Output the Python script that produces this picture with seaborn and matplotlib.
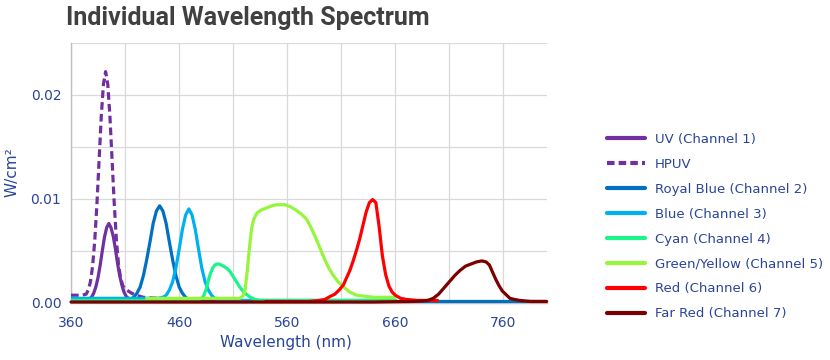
import matplotlib
matplotlib.use("Agg")
import matplotlib.pyplot as plt
import seaborn as sns
import pandas as pd
from matplotlib.ticker import FixedLocator

# ---------------- data ----------------
uv_x = [360, 365, 370, 375, 379, 381, 383, 385, 387, 389, 391, 393, 395, 397, 399,
        401, 403, 405, 407, 409, 411, 414, 418, 425, 435, 450]
uv_y = [0.0002, 0.0002, 0.0002, 0.00025, 0.0005, 0.0009, 0.0015, 0.0024, 0.0036, 0.0050,
        0.0063, 0.0072, 0.0076, 0.0072, 0.0064, 0.0052, 0.0038, 0.0026, 0.0017, 0.0010,
        0.0006, 0.0003, 0.0002, 0.0002, 0.0002, 0.0002]

hpuv_x = [360, 365, 370, 374, 376, 378, 380, 382, 384, 386, 388, 390, 392, 394, 396,
          398, 400, 402, 404, 406, 408, 410, 413, 416, 420, 427, 440, 450, 470, 520, 600, 660]
hpuv_y = [0.0007, 0.0007, 0.0007, 0.0008, 0.0012, 0.0020, 0.0035, 0.0060, 0.0095, 0.0137,
          0.0179, 0.0210, 0.0222, 0.0210, 0.0179, 0.0137, 0.0095, 0.0060, 0.0036, 0.0023,
          0.0016, 0.0013, 0.0011, 0.0009, 0.0007, 0.0005, 0.0004, 0.0003, 0.0002, 0.00015,
          0.00015, 0.00015]

royal_x = [360, 380, 400, 410, 415, 418, 421, 424, 427, 430, 433, 436, 439, 442, 445,
           448, 451, 454, 457, 460, 463, 466, 469, 475, 490, 520, 600, 700, 800]
royal_y = [0.0001, 0.0001, 0.0001, 0.00015, 0.0003, 0.0005, 0.0009, 0.0015, 0.0026, 0.0041,
           0.0058, 0.0076, 0.0088, 0.0093, 0.0088, 0.0076, 0.0058, 0.0041, 0.0026, 0.0015,
           0.0009, 0.0005, 0.0003, 0.00015, 0.0001, 0.0001, 0.0001, 0.0001, 0.0001]

blue_x = [360, 380, 400, 420, 440, 445, 448, 451, 454, 457, 460, 463, 466, 469, 472,
          475, 478, 481, 484, 487, 490, 493, 497, 505, 550, 600, 660]
blue_y = [0.0004, 0.0004, 0.0004, 0.0004, 0.0004, 0.0005, 0.0007, 0.0012, 0.0020, 0.0033,
          0.0051, 0.0070, 0.0084, 0.0090, 0.0084, 0.0070, 0.0051, 0.0033, 0.0020, 0.0012,
          0.0007, 0.0004, 0.0003, 0.0002, 0.0002, 0.0002, 0.0002]

cyan_x = [360, 420, 470, 478, 481, 483, 485, 487, 489, 491, 493, 495, 497, 499, 501,
          504, 507, 510, 513, 516, 519, 522, 526, 530, 535, 560, 600, 660]
cyan_y = [0.0002, 0.0002, 0.0002, 0.0003, 0.0004, 0.0007, 0.0013, 0.0021, 0.0028, 0.0033,
          0.0036, 0.0037, 0.0037, 0.0036, 0.0035, 0.0033, 0.0030, 0.0025, 0.0020, 0.0015,
          0.0011, 0.0008, 0.0005, 0.0003, 0.0002, 0.0002, 0.0002, 0.0002]

green_x = [430, 460, 490, 510, 516, 519, 521, 523, 525, 527, 529, 532, 536, 541, 546,
           550, 554, 558, 563, 568, 573, 578, 582, 586, 590, 594, 598, 602, 607, 612,
           618, 624, 632, 640, 650, 660]
green_y = [0.0004, 0.0004, 0.0004, 0.0004, 0.0004, 0.0006, 0.0012, 0.0030, 0.0052, 0.0071,
           0.0080, 0.0086, 0.0089, 0.0091, 0.0093, 0.0094, 0.0094, 0.0094, 0.0092, 0.0089,
           0.0085, 0.0080, 0.0072, 0.0063, 0.0053, 0.0043, 0.0034, 0.0027, 0.0020, 0.0015,
           0.0010, 0.0007, 0.0006, 0.0005, 0.0005, 0.0005]

red_x = [540, 560, 580, 590, 595, 600, 604, 608, 612, 615, 618, 621, 624, 627, 630,
         633, 636, 639, 642, 645, 648, 651, 654, 657, 660, 665, 670, 680, 690, 699]
red_y = [0.0001, 0.0001, 0.0001, 0.0002, 0.0003, 0.0006, 0.0008, 0.0012, 0.0017, 0.0024,
         0.0031, 0.0040, 0.0050, 0.0061, 0.0074, 0.0087, 0.0096, 0.0099, 0.0096, 0.0073,
         0.0045, 0.0027, 0.0016, 0.0010, 0.0007, 0.0004, 0.0003, 0.0002, 0.0002, 0.0002]

farred_x = [360, 400, 450, 500, 550, 600, 640, 660, 675, 685, 690, 695, 700, 705, 710,
            715, 720, 725, 730, 735, 740, 744, 747, 750, 753, 756, 759, 762, 766, 770,
            775, 785, 800]
farred_y = [0.00005, 0.00005, 0.00005, 0.00005, 0.00005, 0.00005, 0.00005, 0.00008, 0.0001,
            0.00015, 0.0002, 0.0004, 0.0008, 0.0014, 0.0020, 0.0026, 0.0031, 0.0035, 0.0037,
            0.0039, 0.0040, 0.0039, 0.0036, 0.0029, 0.0022, 0.0016, 0.0011, 0.0008, 0.0004,
            0.0003, 0.0002, 0.0001, 0.0001]

series_labels = ["UV (Channel 1)", "HPUV", "Royal Blue (Channel 2)", "Blue (Channel 3)",
                 "Cyan (Channel 4)", "Green/Yellow (Channel 5)", "Red (Channel 6)",
                 "Far Red (Channel 7)"]
series_colors = ["#7030A0", "#7030A0", "#0070C0", "#00B0F0", "#1AF58A", "#96F53C",
                 "#FF0000", "#7B0000"]
series_xy = [(uv_x, uv_y), (hpuv_x, hpuv_y), (royal_x, royal_y), (blue_x, blue_y),
             (cyan_x, cyan_y), (green_x, green_y), (red_x, red_y), (farred_x, farred_y)]

x_tick_values = [360, 460, 560, 660, 760]
y_tick_values = [0.0, 0.01, 0.02]
y_tick_labels = ["0.00", "0.01", "0.02"]

# ---------------- styling ----------------
sns.set_theme(style="whitegrid")
plt.rcParams["font.family"] = ["DejaVu Sans"]
TXT = "#2A4598"
GRID = "#D9D9D9"

fig = plt.figure(figsize=(8.3, 3.6), dpi=100)
ax = fig.add_axes([71 / 830, 57.5 / 360, 475.7 / 830, 260 / 360])

for (xs, ys), lab, col in zip(series_xy, series_labels, series_colors):
    df = pd.DataFrame({"wl": xs, "val": ys})
    sns.lineplot(data=df, x="wl", y="val", ax=ax, color=col, linewidth=2.3,
                 label=lab, estimator=None, sort=False)

for ln in ax.get_lines():
    ln.set_zorder(3)
hp_line = ax.get_lines()[1]
hp_line.set_dashes((2.4, 1.3))
ax.get_lines()[-1].set_clip_on(False)

ax.set_xlim(360, 800)
ax.set_ylim(0, 0.025)
ax.xaxis.set_major_locator(FixedLocator(x_tick_values))
ax.set_xticks([410, 510, 610, 710], minor=True)
ax.yaxis.set_major_locator(FixedLocator(y_tick_values))
ax.set_yticklabels(y_tick_labels)
ax.set_yticks([0.005, 0.015, 0.025], minor=True)
ax.grid(True, which="both", color=GRID, linewidth=0.9)
ax.set_axisbelow(True)
ax.tick_params(axis="both", which="both", length=0, colors=TXT, labelsize=10)
ax.tick_params(axis="x", pad=10)
ax.tick_params(axis="y", pad=7)
for s in ["top", "right"]:
    ax.spines[s].set_visible(False)
for s in ["left", "bottom"]:
    ax.spines[s].set_color("#BFBFBF")
    ax.spines[s].set_linewidth(1.0)
ax.set_xlabel("")
ax.set_ylabel("")

fig.text(285.5 / 830, 1 - 343 / 360, "Wavelength (nm)", ha="center", va="center",
         color=TXT, fontsize=11)
fig.text(12 / 830, 1 - 172 / 360, "W/cm²", ha="center", va="center", rotation=90,
         color=TXT, fontsize=11)
fig.text(66 / 830, 1 - 18 / 360, "Individual Wavelength Spectrum", ha="left", va="center",
         color="#404040", fontsize=18, fontweight="bold", family=["Roboto", "DejaVu Sans"])

handles, labels = ax.get_legend_handles_labels()
if ax.legend_:
    ax.legend_.remove()
leg = fig.legend(handles, labels, loc="upper left", bbox_to_anchor=(607 / 830, 1 - 133 / 360),
                 frameon=False, fontsize=9.5, handlelength=2.9, handletextpad=0.7,
                 labelspacing=0.9, borderpad=0, borderaxespad=0)
for t in leg.get_texts():
    t.set_color(TXT)
for h in leg.get_lines():
    h.set_linewidth(3)
leg.get_lines()[1].set_dashes((1.8, 1.0))

fig.savefig("out.png", dpi=100)
